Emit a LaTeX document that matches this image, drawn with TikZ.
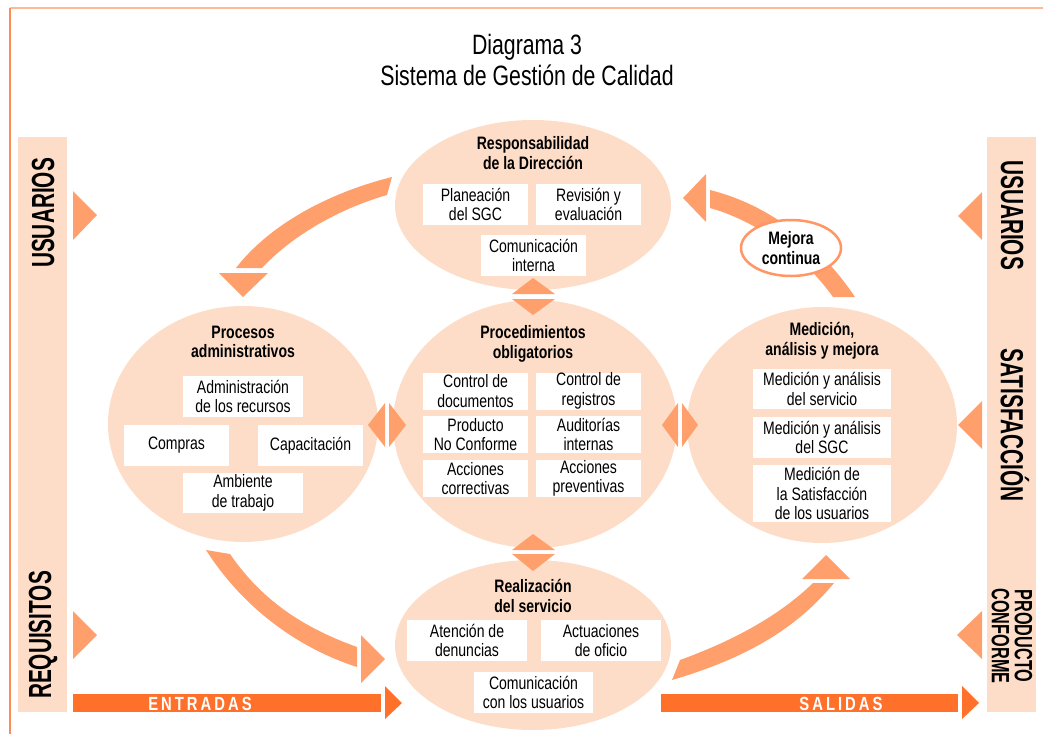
\documentclass[tikz,border=0pt]{standalone}
\usepackage{fontspec}
\setmainfont{Liberation Sans}[FakeStretch=0.78]
\newfontfamily\headfont{Liberation Sans}[FakeStretch=0.76]
\newfontfamily\barfont{Liberation Sans}[FakeStretch=0.65]
\usepackage{xcolor}
\usepackage{tikz}
\usetikzlibrary{shapes,shapes.geometric}
\definecolor{peach}{RGB}{253,221,199}
\definecolor{arrowor}{RGB}{255,159,108}
\definecolor{darkor}{RGB}{255,113,42}
\definecolor{frameor}{RGB}{255,140,85}
\definecolor{paleor}{RGB}{255,185,150}
\definecolor{mejoraor}{RGB}{255,150,100}
\newcommand\lsp{\kern3pt}
\tikzset{
  zone/.style={ellipse, fill=peach, inner sep=0pt},
  box/.style={fill=white, align=center, inner sep=0pt, font=\fontsize{18}{19.5}\selectfont},
  ttl/.style={align=center, font=\bfseries\fontsize{18}{19.5}\selectfont},
  bartxt/.style={font=\barfont\bfseries\fontsize{32}{32}\selectfont},
  flow/.style={fill=arrowor},
  outbar/.style={fill=darkor},
  outtxt/.style={white, font=\bfseries\fontsize{19}{19}\selectfont}
}
\begin{document}
\begin{tikzpicture}[x=1pt,y=-1pt]
\useasboundingbox (0,0) rectangle (1043,734);
% frame
\draw[paleor, line width=2pt] (10,8) -- (1043,8);
\draw[frameor, line width=1.5pt] (10,734) -- (10,8);
\node[font=\headfont\fontsize{28}{31}\selectfont, align=center] (title) at (527,60)
  {Diagrama 3\\Sistema de Gestión de Calidad};
% side bars
\fill[peach] (18,137) rectangle (67,712);
\fill[peach] (987,137) rectangle (1036,712);
\node[bartxt, rotate=90] (usl) at (43,213) {USUARIOS};
\node[bartxt, rotate=90] (req) at (43,635) {REQUISITOS};
\node[bartxt, rotate=-90] (usr) at (1012,215) {USUARIOS};
\node[bartxt, rotate=-90] (sat) at (1015,425) {SATISFACCIÓN};
\node[rotate=-90, align=center, font=\barfont\bfseries\fontsize{25}{23}\selectfont] (prod) at (1012,636)
  {PRODUCTO\\CONFORME};
\fill[flow] (73,191) -- (73,240) -- (97,215) -- cycle;
\fill[flow] (73,611) -- (73,659) -- (97,635) -- cycle;
\fill[flow] (982,192) -- (982,240) -- (958,216) -- cycle;
\fill[flow] (982,401) -- (982,449) -- (958,425) -- cycle;
\fill[flow] (982,611) -- (982,659) -- (957,635) -- cycle;
% zones
\node[zone, minimum width=276pt, minimum height=170pt] (resp) at (533,205) {};
\node[zone, minimum width=284pt, minimum height=248pt] (proc) at (535,424) {};
\node[zone, minimum width=270pt, minimum height=236pt] (admin) at (243,424) {};
\node[zone, minimum width=270pt, minimum height=236pt] (medic) at (822,425) {};
\node[zone, minimum width=276pt, minimum height=170pt] (real) at (533,645) {};
% double heads between zones
\fill[flow] (512,294) -- (555,294) -- (533,278) -- cycle;
\fill[flow] (512,299) -- (555,299) -- (533,315) -- cycle;
\fill[flow] (512,550) -- (555,550) -- (533,534) -- cycle;
\fill[flow] (512,554) -- (555,554) -- (533,571) -- cycle;
\fill[flow] (385,403) -- (385,447) -- (368,425) -- cycle;
\fill[flow] (389,403) -- (389,447) -- (406,425) -- cycle;
\fill[flow] (678,403) -- (678,447) -- (662,425) -- cycle;
\fill[flow] (682,403) -- (682,447) -- (698,425) -- cycle;
% cycle bands
\fill[flow] (392,177) .. controls (320,195) and (265,230) .. (236,268)
  -- (262,268) .. controls (290,238) and (335,210) .. (387,195) -- cycle;
\fill[flow] (219,273) -- (268,273) -- (243,297) -- cycle;
\fill[flow] (710,190) .. controls (770,205) and (820,245) .. (855,297)
  -- (833,297) .. controls (805,258) and (760,222) .. (710,208) -- cycle;
\fill[flow] (706,174) -- (706,222) -- (683,198) -- cycle;
\fill[flow] (230,554) .. controls (265,605) and (310,630) .. (357,647)
  -- (357,667) .. controls (298,648) and (243,608) .. (206,550) -- cycle;
\fill[flow] (361,635) -- (361,683) -- (385,659) -- cycle;
\fill[flow] (680,660) .. controls (735,640) and (780,615) .. (813,583)
  -- (834,583) .. controls (797,628) and (747,658) .. (672,680) -- cycle;
\fill[flow] (802,579) -- (850,579) -- (826,555) -- cycle;
\node[ellipse, draw=mejoraor, line width=2.5pt, fill=white, minimum width=100pt, minimum height=56pt,
  inner sep=0pt, align=center, font=\bfseries\fontsize{18}{19.5}\selectfont] (mejora) at (791,248)
  {Mejora\\continua};
% titles
\node[ttl] (tresp) at (533,153) {Responsabilidad\\de la Dirección};
\node[ttl] (tproc) at (533,344) {Procedimientos\\obligatorios};
\node[ttl] (tadmin) at (243,342) {Procesos\\administrativos};
\node[ttl] (tmedic) at (822,341) {Medición,\\análisis y mejora};
\node[ttl] (treal) at (533,596) {Realización\\del servicio};
% boxes
\node[box, minimum width=105pt, minimum height=41pt] (plan) at (475.5,204.5) {Planeación\\del SGC};
\node[box, minimum width=105pt, minimum height=41pt] (revi) at (588.5,204.5) {Revisión y\\evaluación};
\node[box, minimum width=105pt, minimum height=41pt] (comi) at (533.5,255.5) {Comunicación\\interna};
\node[box, minimum width=105pt, minimum height=37pt] (ctrd) at (475.5,391) {Control de\\documentos};
\node[box, minimum width=105pt, minimum height=37pt] (ctrr) at (588.5,391) {Control de\\registros};
\node[box, minimum width=105pt, minimum height=37pt] (pnc) at (475.5,434.5) {Producto\\No Conforme};
\node[box, minimum width=105pt, minimum height=37pt] (audi) at (588.5,434.5) {Auditorías\\internas};
\node[box, minimum width=105pt, minimum height=37pt] (acor) at (475.5,478.5) {Acciones\\correctivas};
\node[box, minimum width=105pt, minimum height=37pt] (aprev) at (588.5,478.5) {Acciones\\preventivas};
\node[box, minimum width=120pt, minimum height=41pt] (adrec) at (243,396.5) {Administración\\de los recursos};
\node[box, minimum width=105pt, minimum height=41pt] (comp) at (176.5,445.5) {Compras};
\node[box, minimum width=105pt, minimum height=41pt] (capa) at (310.5,445.5) {Capacitación};
\node[box, minimum width=120pt, minimum height=40pt] (amb) at (243,493) {Ambiente\\de trabajo};
\node[box, minimum width=138pt, minimum height=40pt] (mserv) at (822,389) {Medición y análisis\\del servicio};
\node[box, minimum width=138pt, minimum height=41pt] (msgc) at (822,437.5) {Medición y análisis\\del SGC};
\node[box, minimum width=138pt, minimum height=57pt] (msat) at (822,493.5) {Medición de\\la Satisfacción\\de los usuarios};
\node[box, minimum width=120pt, minimum height=41pt] (aten) at (467,640.5) {Atención de\\denuncias};
\node[box, minimum width=120pt, minimum height=41pt] (actu) at (601,640.5) {Actuaciones\\de oficio};
\node[box, minimum width=119pt, minimum height=41pt] (comu) at (533.5,692.5) {Comunicación\\con los usuarios};
% inputs and outputs
\fill[outbar] (73,694) rectangle (381,712);
\fill[outbar] (385,686) -- (385,719) -- (402,703) -- cycle;
\node[outtxt] (entr) at (200,704) {E\lsp N\lsp T\lsp R\lsp A\lsp D\lsp A\lsp S};
\fill[outbar] (661,694) rectangle (958,712);
\fill[outbar] (962,686) -- (962,719) -- (979,703) -- cycle;
\node[outtxt] (sali) at (841,704) {S\lsp A\lsp L\lsp I\lsp D\lsp A\lsp S};
\end{tikzpicture}
\end{document}
